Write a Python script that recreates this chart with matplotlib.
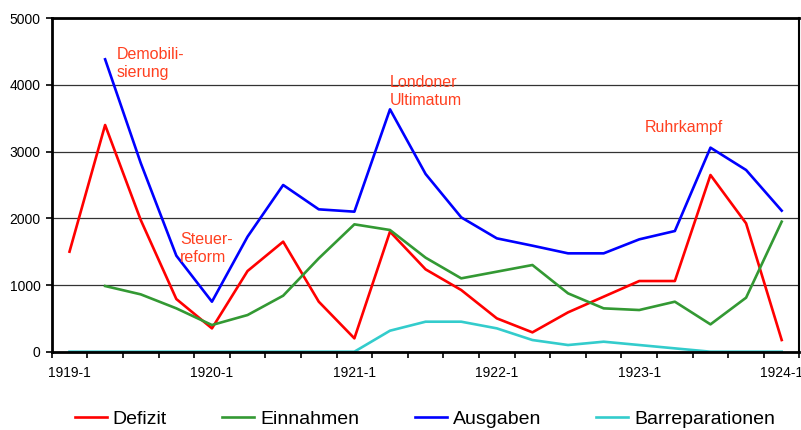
import matplotlib.pyplot as plt
import numpy as np

plt.rcParams['font.family'] = ['Liberation Sans', 'DejaVu Sans']

# quarterly categories 1919-1 .. 1924-1
quarters = [f'{y}-{q}' for y in range(1919, 1925) for q in range(1, 5)][:21]
tick_labels = ['1919-1', '1920-1', '1921-1', '1922-1', '1923-1', '1924-1']

defizit = [1500, 3400, 1975, 790, 350, 1210, 1650, 750, 200, 1800, 1235,
           925, 500, 290, 590, 825, 1060, 1060, 2650, 1925, 175]
einnahmen = [np.nan, 985, 860, 650, 400, 550, 840, 1400, 1910, 1825, 1410,
             1100, 1200, 1300, 875, 650, 625, 750, 410, 810, 1950]
ausgaben = [np.nan, 4385, 2830, 1440, 750, 1725, 2500, 2135, 2100, 3635, 2665,
            2015, 1700, 1590, 1475, 1475, 1685, 1810, 3060, 2725, 2115]
barreparationen = [0, 0, 0, 0, 0, 0, 0, 0, 0, 315, 450,
                   450, 350, 175, 100, 150, 100, 50, 0, 0, 0]

events = ['Demobili-\nsierung', 'Steuer-\nreform', 'Londoner\nUltimatum', 'Ruhrkampf']

fig = plt.figure(figsize=(8.01, 4.30), dpi=100)
ax = fig.add_axes([51.7 / 801, (430 - 351.7) / 430, (799.5 - 51.7) / 801, (351.7 - 18.3) / 430])

x = np.arange(len(quarters))
lw = 1.9
ax.plot(x, defizit, color='#ff0000', lw=lw, label='Defizit')
ax.plot(x, einnahmen, color='#339933', lw=lw, label='Einnahmen')
ax.plot(x, ausgaben, color='#0000ff', lw=lw, label='Ausgaben')
ax.plot(x, barreparationen, color='#33cccc', lw=lw, label='Barreparationen')

ax.set_xlim(-0.5, len(quarters) - 0.5)
ax.set_ylim(0, 5000)
ax.set_yticks(np.arange(0, 5001, 1000))
ax.tick_params(axis='y', labelsize=10, length=4, width=1.2, pad=4)

# category boundaries as tick marks, labels centred in every 4th category
ax.set_xticks(np.arange(-0.5, len(quarters)), minor=False)
ax.set_xticklabels([])
ax.set_xticks(x[::4], minor=True)
ax.set_xticklabels(tick_labels, minor=True)
ax.tick_params(axis='x', which='major', length=4, width=1.2, direction='out')
ax.tick_params(axis='x', which='minor', length=0, labelsize=10, pad=10)

for y in [1000, 2000, 3000, 4000]:
    ax.axhline(y, color='#333333', lw=0.9, zorder=0)

for s in ['left', 'bottom', 'top']:
    ax.spines[s].set_linewidth(2)
ax.spines['right'].set_linewidth(1.5)

txt_color = '#ff4020'
fs = 11.5
ax.text(1.33, 4570, events[0], color=txt_color, fontsize=fs, va='top', ha='left', linespacing=1.25)
ax.text(3.1, 1790, events[1], color=txt_color, fontsize=fs, va='top', ha='left', linespacing=1.25)
ax.text(9.0, 4150, events[2], color=txt_color, fontsize=fs, va='top', ha='left', linespacing=1.25)
ax.text(16.16, 3480, events[3], color=txt_color, fontsize=fs, va='top', ha='left')

fig.legend(loc='center', bbox_to_anchor=(425 / 801, 1 - 419 / 430), ncol=4,
           frameon=False, fontsize=14, handlelength=1.65, handletextpad=0.3,
           columnspacing=2.85)

plt.savefig('out.png', dpi=100)
